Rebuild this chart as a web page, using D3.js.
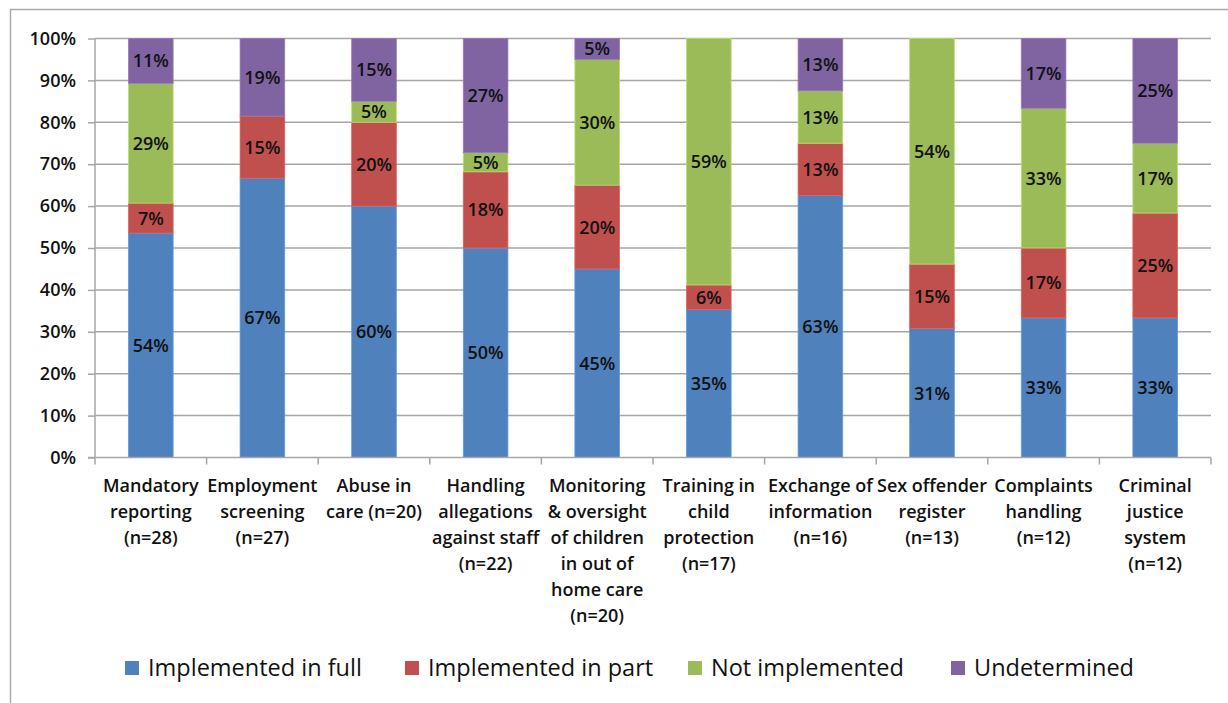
<!DOCTYPE html>
<html>
<head>
<meta charset="utf-8">
<script src="https://cdn.jsdelivr.net/npm/d3@7"></script>
<style>
  html, body { margin: 0; padding: 0; background: #fff; }
  svg { display: block; }
  text { font-family: "Open Sans", Lato, sans-serif; fill: #111; }
</style>
</head>
<body>
<svg id="chart" width="1228" height="703"></svg>
<script>
// Recommendation areas, each label split into its printed lines
const categories = [
  ["Mandatory", "reporting", "(n=28)"],
  ["Employment", "screening", "(n=27)"],
  ["Abuse in", "care (n=20)"],
  ["Handling", "allegations", "against staff", "(n=22)"],
  ["Monitoring", "& oversight", "of children", "in out of", "home care", "(n=20)"],
  ["Training in", "child", "protection", "(n=17)"],
  ["Exchange of", "information", "(n=16)"],
  ["Sex offender", "register", "(n=13)"],
  ["Complaints", "handling", "(n=12)"],
  ["Criminal", "justice", "system", "(n=12)"]
];
const totals = [28, 27, 20, 22, 20, 17, 16, 13, 12, 12];

// Number of jurisdictions in each implementation status
const seriesNames = ["Implemented in full", "Implemented in part", "Not implemented", "Undetermined"];
const implementedFull = [15, 18, 12, 11, 9, 6, 10, 4, 4, 4];
const implementedPart = [2, 4, 4, 4, 4, 1, 2, 2, 2, 3];
const notImplemented  = [8, 0, 1, 1, 6, 10, 2, 7, 4, 2];
const undetermined    = [3, 5, 3, 6, 1, 0, 2, 0, 2, 3];
const seriesColors = ["#4F81BD", "#C0504D", "#9BBB59", "#8064A2"];

const yTicks = [0, 10, 20, 30, 40, 50, 60, 70, 80, 90, 100];

const svg = d3.select("#chart");
const W = 1228, H = 703;
const labelFont = 18;
const labelWeight = 600;

// Outer chart frame (left and top edges visible)
svg.append("path")
  .attr("d", `M10.5,${H} V9.5 H${W}`)
  .attr("fill", "none")
  .attr("stroke", "#ababab")
  .attr("stroke-width", 1.5);

const plot = { left: 95, right: 1211, top: 38.5, bottom: 457.5 };

const rows = categories.map((c, i) => {
  const n = totals[i];
  return {
    idx: i,
    values: [implementedFull[i], implementedPart[i], notImplemented[i], undetermined[i]].map(v => v / n * 100)
  };
});

const x = d3.scaleBand()
  .domain(d3.range(categories.length))
  .range([plot.left, plot.right])
  .paddingInner(0.6)
  .paddingOuter(0.3);

const y = d3.scaleLinear().domain([0, 100]).range([plot.bottom, plot.top]);

// Gridlines
svg.append("g")
  .selectAll("line")
  .data(yTicks.filter(t => t > 0))
  .join("line")
  .attr("x1", plot.left).attr("x2", plot.right)
  .attr("y1", d => y(d)).attr("y2", d => y(d))
  .attr("stroke", "#a6a6a6")
  .attr("stroke-width", 1.5);

// Stacked segments
const stack = d3.stack()
  .keys([0, 1, 2, 3])
  .value((d, k) => d.values[k]);
const layers = stack(rows);

const g = svg.append("g");
layers.forEach((layer, k) => {
  g.selectAll(null)
    .data(layer.filter(d => d[1] - d[0] > 0))
    .join("rect")
    .attr("x", d => x(d.data.idx))
    .attr("width", x.bandwidth())
    .attr("y", d => y(d[1]))
    .attr("height", d => y(d[0]) - y(d[1]))
    .attr("fill", seriesColors[k])
    .attr("stroke", d3.color(seriesColors[k]).brighter(0.5))
    .attr("stroke-width", 0.8);
});

// Segment value labels
layers.forEach((layer, k) => {
  g.selectAll(null)
    .data(layer.filter(d => d[1] - d[0] > 0))
    .join("text")
    .attr("x", d => x(d.data.idx) + x.bandwidth() / 2)
    .attr("y", d => (y(d[0]) + y(d[1])) / 2)
    .attr("dy", "0.36em")
    .attr("text-anchor", "middle")
    .attr("font-size", labelFont)
    .attr("font-weight", labelWeight)
    .text(d => Math.round(d[1] - d[0]) + "%");
});

// Y axis
const yAxis = d3.axisLeft(y)
  .tickValues(yTicks)
  .tickFormat(d => d + "%")
  .tickSize(7)
  .tickPadding(12);
const yg = svg.append("g")
  .attr("transform", `translate(${plot.left},0)`)
  .call(yAxis);
yg.select(".domain").attr("stroke", "#a6a6a6").attr("stroke-width", 1.5).attr("d", `M0,${plot.top}V${plot.bottom}`);
yg.selectAll(".tick line").attr("stroke", "#a6a6a6").attr("stroke-width", 1.5);
yg.selectAll(".tick text")
  .attr("font-family", "'Open Sans', sans-serif")
  .attr("font-size", labelFont)
  .attr("font-weight", labelWeight)
  .attr("fill", "#111");

// X axis baseline and category boundary ticks
const boundaries = d3.range(categories.length + 1).map(i => plot.left + i * (plot.right - plot.left) / categories.length);
svg.append("line")
  .attr("x1", plot.left - 7).attr("x2", plot.right)
  .attr("y1", plot.bottom).attr("y2", plot.bottom)
  .attr("stroke", "#a6a6a6").attr("stroke-width", 1.5);
svg.append("g")
  .selectAll("line")
  .data(boundaries)
  .join("line")
  .attr("x1", d => d).attr("x2", d => d)
  .attr("y1", plot.bottom).attr("y2", plot.bottom + 7)
  .attr("stroke", "#a6a6a6").attr("stroke-width", 1.5);

// Category labels
const catG = svg.append("g");
categories.forEach((lines, i) => {
  const cx = x(i) + x.bandwidth() / 2;
  const t = catG.append("text")
    .attr("text-anchor", "middle")
    .attr("font-size", labelFont)
    .attr("font-weight", labelWeight);
  lines.forEach((ln, j) => {
    t.append("tspan")
      .attr("x", cx)
      .attr("y", 492 + j * 26)
      .text(ln);
  });
});

// Legend
const legendX = [125, 405, 688, 951];
const legend = svg.append("g");
seriesNames.forEach((name, k) => {
  legend.append("rect")
    .attr("x", legendX[k]).attr("y", 661)
    .attr("width", 14).attr("height", 14)
    .attr("fill", seriesColors[k]);
  legend.append("text")
    .attr("x", legendX[k] + 23).attr("y", 676)
    .attr("font-size", 23.5)
    .text(name);
});
</script>
</body>
</html>
